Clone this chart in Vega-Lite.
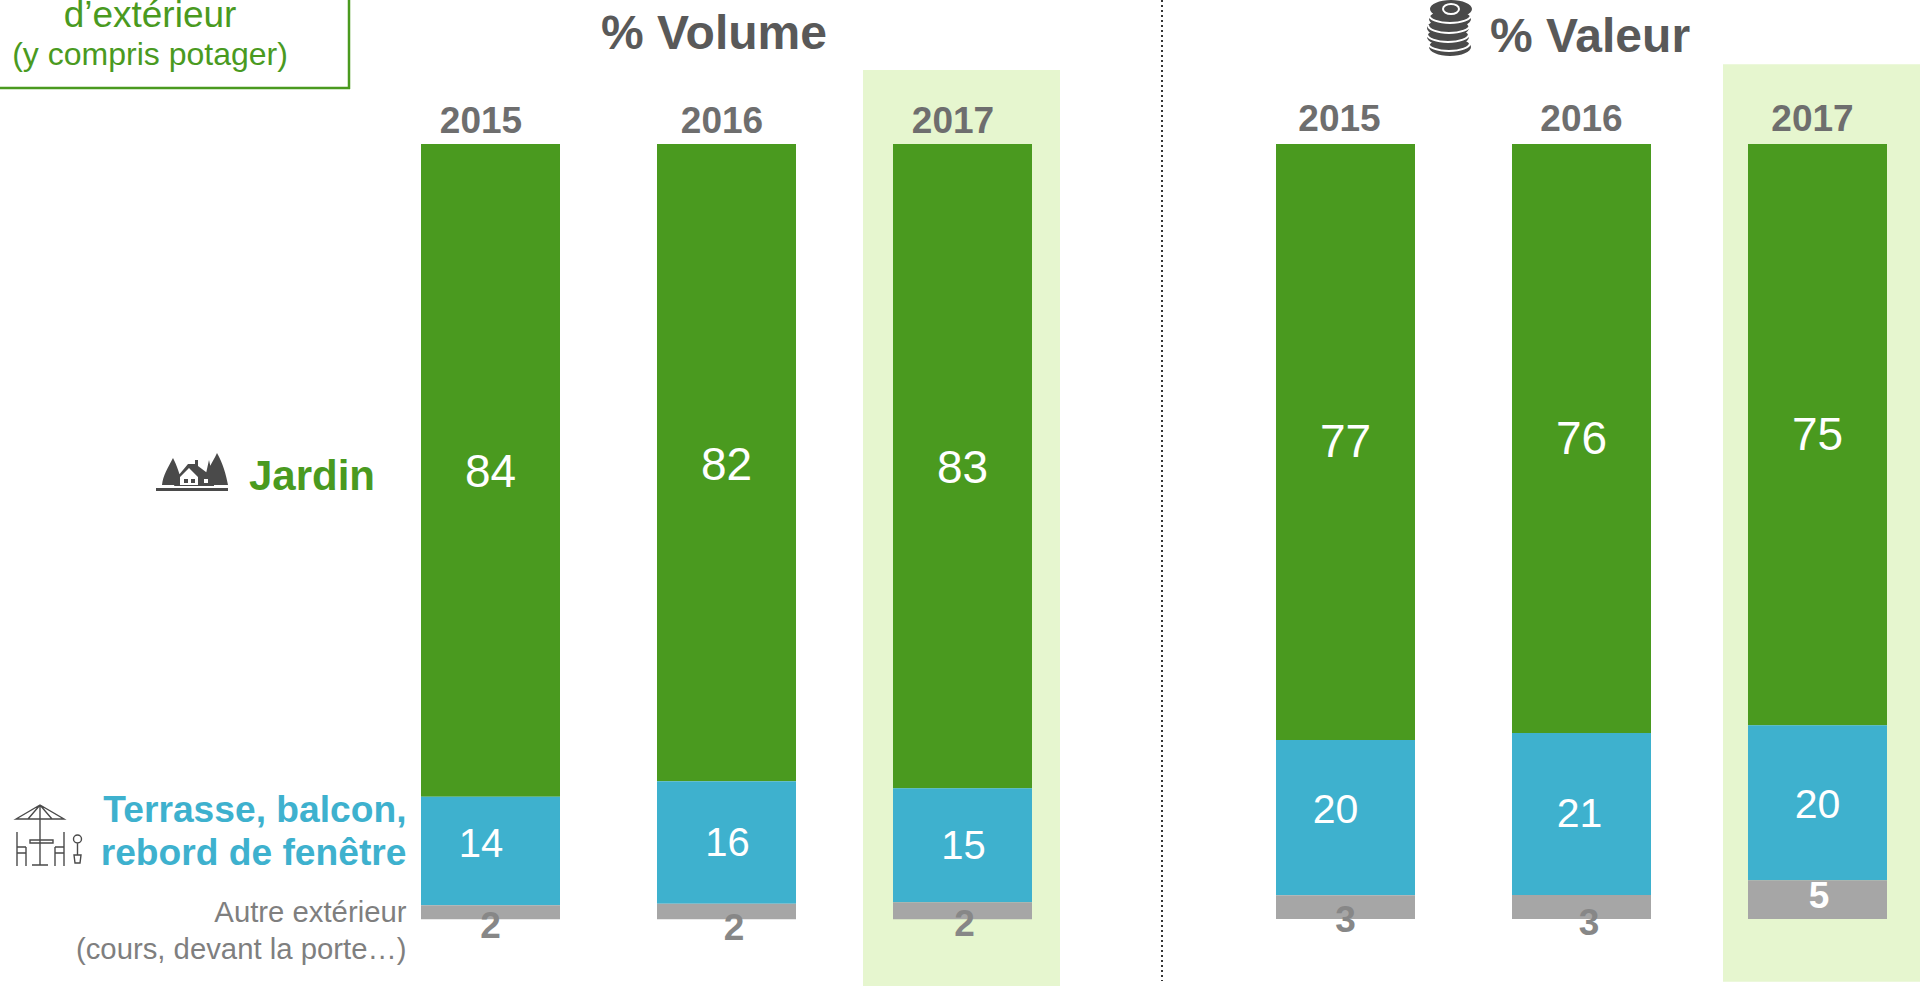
{"$schema":"https://vega.github.io/schema/vega-lite/v6.json","padding":0,"spacing":0,"background":"white","config":{"view":{"stroke":null},"text":{"font":"Liberation Sans"},"font":"Liberation Sans"},
"datasets":{
"volume":[{"year":"2015","segment":"Jardin","pct":84.2},{"year":"2015","segment":"Terrasse","pct":14.0},{"year":"2015","segment":"Autre","pct":1.8},{"year":"2016","segment":"Jardin","pct":82.2},{"year":"2016","segment":"Terrasse","pct":15.8},{"year":"2016","segment":"Autre","pct":2.0},{"year":"2017","segment":"Jardin","pct":83.1},{"year":"2017","segment":"Terrasse","pct":14.7},{"year":"2017","segment":"Autre","pct":2.2}],
"valeur":[{"year":"2015","segment":"Jardin","pct":76.9},{"year":"2015","segment":"Terrasse","pct":20.05},{"year":"2015","segment":"Autre","pct":3.05},{"year":"2016","segment":"Jardin","pct":76.0},{"year":"2016","segment":"Terrasse","pct":20.9},{"year":"2016","segment":"Autre","pct":3.1},{"year":"2017","segment":"Jardin","pct":75.0},{"year":"2017","segment":"Terrasse","pct":20.0},{"year":"2017","segment":"Autre","pct":5.0}]},
"hconcat":[
{"width":1170,"height":986,"data":{"name":"volume"},
"transform":[{"stack":"pct","groupby":["year"],"sort":[{"field":"pct","order":"ascending"}],"as":["y0","y1"]}],
"encoding":{"x":{"field":"year","type":"ordinal","axis":null,"scale":{"type":"band","domain":["2015","2016","2017"],"range":[421,1032],"paddingInner":0.411,"paddingOuter":0}},"y":{"field":"y0","type":"quantitative","axis":null,"scale":{"domain":[0,100],"range":[919.3,144]}}},
"layer":[
{"transform":[{"filter":"datum.segment=='Jardin'&&datum.year=='2017'"}],"mark":{"type":"bar","width":197,"xOffset":-1,"color":"#E6F6CF"},"encoding":{"y":{"datum":109.55,"axis":null},"y2":{"datum":-8.6}}},
{"mark":{"type":"bar"},"encoding":{"y2":{"field":"y1"},"color":{"field":"segment","type":"nominal","legend":null,"scale":{"domain":["Jardin","Terrasse","Autre"],"range":["#4A9A1F","#3EB1CE","#A6A6A6"]}}}},
{"transform":[{"fold":["y0","y1"],"as":["edge","pos"]},{"aggregate":[{"op":"mean","field":"pos","as":"mid"}],"groupby":["year","segment","pct"]}],
"encoding":{"y":{"field":"mid","type":"quantitative","axis":null},"text":{"field":"pct","type":"quantitative","format":".0f"}},
"layer":[
{"transform":[{"filter":"datum.segment=='Jardin'"}],"mark":{"type":"text","fontSize":46,"color":"#FFFFFF","dy":3}},
{"transform":[{"filter":"datum.segment=='Terrasse'&&datum.year=='2015'"}],"mark":{"type":"text","fontSize":40,"color":"#FFFFFF","dx":-9.5,"dy":-6}},
{"transform":[{"filter":"datum.segment=='Terrasse'&&datum.year!='2015'"}],"mark":{"type":"text","fontSize":40,"color":"#FFFFFF","dx":1,"dy":1.5}},
{"transform":[{"filter":"datum.segment=='Autre'&&datum.year=='2015'"}],"mark":{"type":"text","fontSize":37,"fontWeight":"bold","color":"#878787","dx":0,"dy":15}},
{"transform":[{"filter":"datum.segment=='Autre'&&datum.year=='2016'"}],"mark":{"type":"text","fontSize":37,"fontWeight":"bold","color":"#878787","dx":7.5,"dy":17}},
{"transform":[{"filter":"datum.segment=='Autre'&&datum.year=='2017'"}],"mark":{"type":"text","fontSize":37,"fontWeight":"bold","color":"#878787","dx":2,"dy":14.5}}
]},
{"transform":[{"filter":"datum.segment=='Jardin'&&datum.year!='2016'"}],"mark":{"type":"text","fontSize":37,"fontWeight":"bold","color":"#6E6E6E","baseline":"alphabetic","dx":-9.5,"dy":-11},"encoding":{"y":{"datum":100,"axis":null},"text":{"field":"year"}}},
{"transform":[{"filter":"datum.segment=='Jardin'&&datum.year=='2016'"}],"mark":{"type":"text","fontSize":37,"fontWeight":"bold","color":"#6E6E6E","baseline":"alphabetic","dx":-4.5,"dy":-11},"encoding":{"y":{"datum":100,"axis":null},"text":{"field":"year"}}},
{"transform":[{"filter":"datum.segment=='Jardin'&&datum.year=='2015'"}],"mark":{"type":"text","text":"Jardin","fontSize":42,"fontWeight":"bold","align":"right","color":"#4A9A1F"},"encoding":{"x":{"value":375},"y":{"datum":57.05,"axis":null}}},
{"transform":[{"filter":"datum.segment=='Terrasse'&&datum.year=='2015'"}],"mark":{"type":"text","text":["Terrasse, balcon,","rebord de fenêtre"],"fontSize":37.2,"fontWeight":"bold","align":"right","color":"#3EB1CE","lineHeight":43},"encoding":{"x":{"value":406.5},"y":{"datum":13.97,"axis":null}}},
{"transform":[{"filter":"datum.segment=='Autre'&&datum.year=='2015'"}],"mark":{"type":"text","text":["Autre extérieur","(cours, devant la porte…)"],"fontSize":29.3,"align":"right","color":"#7F7F7F","lineHeight":37},"encoding":{"x":{"value":406.5},"y":{"datum":0.81,"axis":null}}},
{"data":{"values":[{"t":"% Volume"}]},"mark":{"type":"text","fontSize":48,"fontWeight":"bold","baseline":"alphabetic","color":"#595959"},"encoding":{"x":{"value":714},"y":{"value":49},"text":{"field":"t"}}},
{"data":{"values":[{"t":"d’extérieur"}]},"mark":{"type":"text","clip":true,"fontSize":37,"baseline":"alphabetic","color":"#4A9A1F"},"encoding":{"x":{"value":150},"y":{"value":27},"text":{"field":"t"}}},
{"data":{"values":[{"t":"(y compris potager)"}]},"mark":{"type":"text","fontSize":32,"baseline":"alphabetic","color":"#4A9A1F"},"encoding":{"x":{"value":150},"y":{"value":65},"text":{"field":"t"}}},
{"data":{"values":[{"e":"bas"}]},"mark":{"type":"rule","clip":true,"color":"#4A9A1F","strokeWidth":2.5},"encoding":{"x":{"value":-5},"x2":{"value":350},"y":{"value":88}}},
{"data":{"values":[{"e":"droit"}]},"mark":{"type":"rule","clip":true,"color":"#4A9A1F","strokeWidth":2.5},"encoding":{"x":{"value":349},"y":{"value":-5},"y2":{"value":89}}},
{"data":{"values":[{"e":"separateur"}]},"mark":{"type":"rule","clip":true,"color":"#333333","strokeWidth":2,"strokeDash":[2,3]},"encoding":{"x":{"value":1162},"y":{"value":0},"y2":{"value":981}}},
{"data":{"values":[{"i":"maison"}]},"mark":{"type":"point","filled":true,"opacity":1,"size":4,"color":"#4A4A4A","shape":"M-30,13 C-29,3 -24,-4 -19,-14 C-15,-6 -12,2 -10,13 Z M12,13 C14,-2 20,-8 25,-19 C31,-8 34,2 36,13 Z M13,6 L17,-12 L21,6 Z M-14,4 L-4,-8 L3,-8 L3,-12 L6,-12 L6,-6 L22,6 L22,14 L-18,14 Z M-36,16 L36,16 L36,19 L-36,19 Z"},"encoding":{"x":{"value":192},"y":{"value":472}}},
{"data":{"values":[{"i":"maison"}]},"mark":{"type":"point","filled":true,"opacity":1,"size":4,"color":"#FFFFFF","shape":"M-12,5 L-3,-4 L6,5 L6,13 L-12,13 Z M-8,7 L-8,11 L-4,11 L-4,7 Z M-1,7 L-1,11 L3,11 L3,7 Z M12,7 L16,7 L16,11 L12,11 Z"},"encoding":{"x":{"value":192},"y":{"value":472}}},
{"data":{"values":[{"i":"parasol"}]},"mark":{"type":"point","filled":false,"opacity":1,"size":4,"strokeWidth":1.4,"color":"#4A4A4A","shape":"M-34,-17 L-10,-31 L14,-17 Z M-22,-17 L-10,-31 L2,-17 M-10,-31 L-10,29 M-20,4 L3,4 L3,7 L-20,7 Z M-18,29 L-2,29 M-33,-4 L-33,30 M-33,11 L-24,11 M-24,11 L-24,30 M-33,17 L-24,17 M14,-4 L14,30 M5,11 L14,11 M5,11 L5,30 M5,17 L14,17 M24,19 L31,19 L30,27 L25,27 Z M27.5,19 L27.5,7 M23.5,3 a4,4 0 1,0 8,0 a4,4 0 1,0 -8,0 Z"},"encoding":{"x":{"value":50},"y":{"value":836}}}
]},
{"width":750,"height":986,"data":{"name":"valeur"},
"transform":[{"stack":"pct","groupby":["year"],"sort":[{"field":"pct","order":"ascending"}],"as":["y0","y1"]}],
"encoding":{"x":{"field":"year","type":"ordinal","axis":null,"scale":{"type":"band","domain":["2015","2016","2017"],"range":[106,717],"paddingInner":0.411,"paddingOuter":0}},"y":{"field":"y0","type":"quantitative","axis":null,"scale":{"domain":[0,100],"range":[919,144]}}},
"layer":[
{"transform":[{"filter":"datum.segment=='Jardin'&&datum.year=='2017'"}],"mark":{"type":"bar","width":197,"xOffset":4,"color":"#E6F6CF"},"encoding":{"y":{"datum":110.3,"axis":null},"y2":{"datum":-8.1}}},
{"mark":{"type":"bar"},"encoding":{"y2":{"field":"y1"},"color":{"field":"segment","type":"nominal","legend":null,"scale":{"domain":["Jardin","Terrasse","Autre"],"range":["#4A9A1F","#3EB1CE","#A6A6A6"]}}}},
{"transform":[{"fold":["y0","y1"],"as":["edge","pos"]},{"aggregate":[{"op":"mean","field":"pos","as":"mid"}],"groupby":["year","segment","pct"]}],
"encoding":{"y":{"field":"mid","type":"quantitative","axis":null},"text":{"field":"pct","type":"quantitative","format":".0f"}},
"layer":[
{"transform":[{"filter":"datum.segment=='Jardin'"}],"mark":{"type":"text","fontSize":46,"color":"#FFFFFF","dy":1.5}},
{"transform":[{"filter":"datum.segment=='Terrasse'&&datum.year=='2015'"}],"mark":{"type":"text","fontSize":41,"color":"#FFFFFF","dx":-10,"dy":-7}},
{"transform":[{"filter":"datum.segment=='Terrasse'&&datum.year=='2016'"}],"mark":{"type":"text","fontSize":41,"color":"#FFFFFF","dx":-2,"dy":1}},
{"transform":[{"filter":"datum.segment=='Terrasse'&&datum.year=='2017'"}],"mark":{"type":"text","fontSize":41,"color":"#FFFFFF","dy":3}},
{"transform":[{"filter":"datum.segment=='Autre'&&datum.year=='2015'"}],"mark":{"type":"text","fontSize":37,"fontWeight":"bold","color":"#878787","dy":14}},
{"transform":[{"filter":"datum.segment=='Autre'&&datum.year=='2016'"}],"mark":{"type":"text","fontSize":37,"fontWeight":"bold","color":"#878787","dx":7.5,"dy":17}},
{"transform":[{"filter":"datum.segment=='Autre'&&datum.year=='2017'"}],"mark":{"type":"text","fontSize":37,"fontWeight":"bold","color":"#FFFFFF","dx":1.5,"dy":-2.5}}
]},
{"transform":[{"filter":"datum.segment=='Jardin'&&datum.year=='2015'"}],"mark":{"type":"text","fontSize":37,"fontWeight":"bold","color":"#6E6E6E","baseline":"alphabetic","dx":-6,"dy":-13},"encoding":{"y":{"datum":100,"axis":null},"text":{"field":"year"}}},
{"transform":[{"filter":"datum.segment=='Jardin'&&datum.year=='2016'"}],"mark":{"type":"text","fontSize":37,"fontWeight":"bold","color":"#6E6E6E","baseline":"alphabetic","dy":-13},"encoding":{"y":{"datum":100,"axis":null},"text":{"field":"year"}}},
{"transform":[{"filter":"datum.segment=='Jardin'&&datum.year=='2017'"}],"mark":{"type":"text","fontSize":37,"fontWeight":"bold","color":"#6E6E6E","baseline":"alphabetic","dx":-5,"dy":-13},"encoding":{"y":{"datum":100,"axis":null},"text":{"field":"year"}}},
{"data":{"values":[{"t":"% Valeur"}]},"mark":{"type":"text","fontSize":48,"fontWeight":"bold","baseline":"alphabetic","color":"#595959"},"encoding":{"x":{"value":420},"y":{"value":52},"text":{"field":"t"}}},
{"data":{"values":[{"i":"pieces"}]},"mark":{"type":"point","clip":true,"filled":true,"opacity":1,"size":4,"color":"#4A4A4A","shape":"M-19,-19 a21,9 0 1,0 42,0 a21,9 0 1,0 -42,0 Z M-20,-9 a21,9 0 1,0 42,0 a21,9 0 1,0 -42,0 Z M-22,0 a21,9 0 1,0 42,0 a21,9 0 1,0 -42,0 Z M-22,9 a21,9 0 1,0 42,0 a21,9 0 1,0 -42,0 Z M-20,19 a21,9 0 1,0 42,0 a21,9 0 1,0 -42,0 Z"},"encoding":{"x":{"value":279},"y":{"value":28}}},
{"data":{"values":[{"i":"pieces"}]},"mark":{"type":"point","clip":true,"filled":false,"opacity":1,"size":4,"strokeWidth":2,"color":"#FFFFFF","shape":"M-20,-13 a21,8 0 0 0 42,0 M-21,-3 a21,8 0 0 0 42,0 M-22,6 a21,8 0 0 0 42,0 M-21,15 a21,8 0 0 0 42,0 M-6,-19 a8,5 0 1,0 16,0 a8,5 0 1,0 -16,0 Z"},"encoding":{"x":{"value":279},"y":{"value":28}}}
]}
]}
